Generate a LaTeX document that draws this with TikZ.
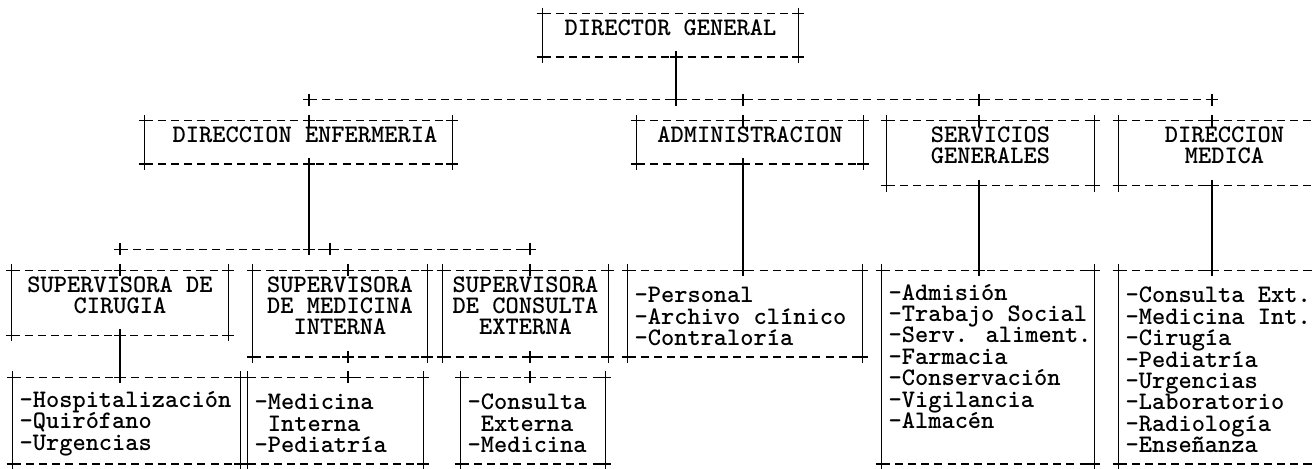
\documentclass[tikz,border=0pt]{standalone}
\usepackage{tikz}
\usetikzlibrary{fit}

\setlength{\lineskiplimit}{-20pt}
\newcommand{\asciifont}{\fontsize{12.6pt}{10.7pt}\selectfont\ttfamily\bfseries}
\newcommand{\asciiframe}[1]{%
        \draw[hline] (#1.north west) -- (#1.north east) (#1.south west) -- (#1.south east);
        \draw[vline] (#1.north west) -- (#1.south west) (#1.north east) -- (#1.south east);
        \foreach \cn in {north west,north east,south west,south east}
                \pic at (#1.\cn) {cross};
}

\begin{document}
\begin{tikzpicture}[x=0.5pt, y=-0.5pt,
        every node/.style={font=\asciifont, inner sep=0pt},
        hline/.style={line width=0.8pt, dash pattern=on 4pt off 2.6pt},
        vline/.style={line width=0.8pt},
        cross/.pic={\draw[vline] (-6,0) -- (6,0) (0,-6) -- (0,6);},
        cbox/.style={align=center},
        items/.style={align=left, anchor=west, yshift=-1.5pt}]

        \useasboundingbox[fill=white] (0,0) rectangle (1312,468);

        \coordinate (bE) at (309,99.6);
        \coordinate (bD) at (676,99.6);
        \coordinate (bA) at (743,99.6);
        \coordinate (bS) at (979,99.6);
        \coordinate (bM) at (1212,99.6);
        \coordinate (sC) at (120,249.4);
        \coordinate (sE) at (309,249.4);
        \coordinate (sX) at (330,249.4);
        \coordinate (sK) at (530,249.4);
        \coordinate (xM) at (348,0);

        \node[cbox, fit={(543,14) (798,56.8)}] (dg) {DIRECTOR GENERAL};
        \node[cbox, fit={(145,121) (452,163.8)}] (enf) {\hspace*{6.5pt}DIRECCION ENFERMERIA};
        \node[cbox, fit={(637,121) (863,163.8)}] (adm) {ADMINISTRACION};
        \node[cbox, fit={(887,121) (1094,185.2)}] (serv) {SERVICIOS\\GENERALES};
        \node[cbox, fit={(1119,121) (1330,185.2)}] (med) {DIRECCION\\MEDICA};

        \node[cbox, fit={(12,270.8) (228,335)}] (cir) {SUPERVISORA DE\\CIRUGIA};
        \node[cbox, fit={(253,270.8) (427,356.4)}] (mint) {SUPERVISORA\\DE MEDICINA\\INTERNA};
        \node[cbox, fit={(443,270.8) (608,356.4)}] (cons) {SUPERVISORA\\DE CONSULTA\\EXTERNA};

        \node[fit={(13,377.8) (240,463.4)}] (lcir) {};
        \node[fit={(248,377.8) (423,463.4)}] (lmint) {};
        \node[fit={(461,377.8) (605,463.4)}] (lcons) {};
        \node[fit={(628,270.8) (862,356.4)}] (ladm) {};
        \node[fit={(882,270.8) (1094,463.4)}] (lserv) {};
        \node[fit={(1119,270.8) (1317,463.4)}] (lmed) {};

        \node[items] (lcir-t) at ([xshift=3.3pt]lcir.west) {-Hospitalización\\-Quirófano\\-Urgencias};
        \node[items] (lmint-t) at ([xshift=3.3pt]lmint.west) {-Medicina\\\phantom{-}Interna\\-Pediatría};
        \node[items] (lcons-t) at ([xshift=3.3pt]lcons.west) {-Consulta\\\phantom{-}Externa\\-Medicina};
        \node[items] (ladm-t) at ([xshift=3.3pt]ladm.west) {-Personal\\-Archivo clínico\\-Contraloría};
        \node[items] (lserv-t) at ([xshift=3.3pt]lserv.west) {-Admisión\\-Trabajo Social\\-Serv. aliment.\\-Farmacia\\-Conservación\\-Vigilancia\\-Almacén\\\strut};
        \node[items] (lmed-t) at ([xshift=3.3pt]lmed.west) {-Consulta Ext.\\-Medicina Int.\\-Cirugía\\-Pediatría\\-Urgencias\\-Laboratorio\\-Radiología\\-Enseñanza};

        \foreach \b in {dg,enf,adm,serv,med,cir,mint,cons,lcir,lmint,lcons,ladm,lserv,lmed}
                {\asciiframe{\b}}

        \draw[vline] (dg.south -| bD) -- (bD);
        \draw[hline] (bE) -- (bM);
        \draw[vline] (enf.south -| bE) -- (sE);
        \draw[hline] (sC) -- (sK);
        \draw[vline] (cir.south -| sC) -- (lcir.north -| sC);
        \draw[vline] (adm.south -| bA) -- (ladm.north -| bA);
        \draw[vline] (serv.south -| bS) -- (lserv.north -| bS);
        \draw[vline] (med.south -| bM) -- (lmed.north -| bM);

        \foreach \p in {bE,bD,bA,bS,bM,sC,sE,sX,sK}
                \pic at (\p) {cross};
        \pic at (dg.south -| bD) {cross};
        \foreach \b/\p in {enf/bE,adm/bA,serv/bS,med/bM,cir/sC,cons/sK,mint/xM}
        {
                \pic at (\b.north -| \p) {cross};
                \pic at (\b.south -| \p) {cross};
        }
        \foreach \b/\p in {lcir/sC,lmint/xM,lcons/sK,ladm/bA,lserv/bS,lmed/bM}
                \pic at (\b.north -| \p) {cross};
\end{tikzpicture}
\end{document}
